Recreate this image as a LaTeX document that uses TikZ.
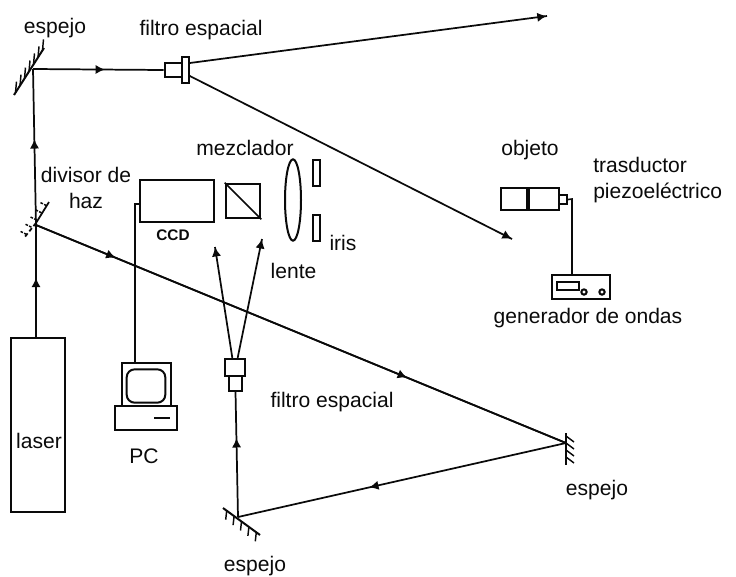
\documentclass[tikz,border=0pt]{standalone}
\usepackage{fontspec}
\setmainfont{Liberation Sans}
\usetikzlibrary{positioning,arrows.meta,calc,shapes.geometric,decorations.markings}
\definecolor{ink}{HTML}{0A0A0A}
\tikzset{
  beam/.style={draw=ink,line width=1.3pt},
  beamarrow/.style={beam,postaction={decorate},decoration={markings,mark=at position #1 with {\arrow{Latex[length=7pt,width=7pt]}}}},
  part/.style={draw=ink,line width=1.5pt,fill=white,inner sep=0pt},
  wire/.style={draw=ink,line width=1.2pt},
  hatch/.style={draw=ink,line width=1.1pt},
  lbl/.style={font=\fontsize{15.8}{20}\selectfont,text=ink,inner sep=0pt,align=center},
}
\begin{document}
\begin{tikzpicture}[x=0.75pt,y=-0.75pt]
  \useasboundingbox (0,0) rectangle (736,576);
  % mirrors and free ends
  \coordinate (mtop) at (33,69);
  \coordinate (split) at (36,225);
  \coordinate (mright) at (566,443);
  \coordinate (mbot) at (238,517);
  \coordinate (endtop) at (547,16);
  \coordinate (endobj) at (512,239);
  \coordinate (endleft) at (215,247);
  \coordinate (endright) at (262,239);
  \coordinate (ccdbend) at (135,204);
  \coordinate (piezobend) at (572,199);
  % boxes
  \node[part,minimum width=40.5pt,minimum height=130pt] (laser) at (38,425) {};
  \node[lbl] (laserlbl) at (39,441) {laser};
  \node[part,minimum width=56pt,minimum height=32pt] (ccd) at (177,201) {};
  \node[lbl,font=\fontsize{11.5}{12}\selectfont\bfseries] (ccdlbl) at (173,235) {CCD};
  \node[part,minimum width=26pt,minimum height=26pt] (mixer) at (243,201) {};
  \draw[wire] (mixer.north west) -- (mixer.south east);
  \node[part,ellipse,minimum width=12pt,minimum height=61pt] (lens) at (293,200) {};
  \node[part,minimum width=5pt,minimum height=19.5pt] (iristop) at (316.5,173) {};
  \node[part,minimum width=5pt,minimum height=19.5pt] (irisbot) at (316.5,228) {};
  % spatial filters
  \node[part,minimum width=14pt,minimum height=10.5pt] (sfone) at (174,70) {};
  \node[part,minimum width=5pt,minimum height=19.5pt] (sftwo) at (185.5,70) {};
  \node[part,minimum width=15pt,minimum height=13pt] (sfthree) at (235,367.5) {};
  \node[part,minimum width=10pt,minimum height=11pt] (sffour) at (235.5,383.5) {};
  % object and generator
  \node[part,minimum width=43.5pt,minimum height=16.5pt] (obj) at (530,199) {};
  \draw[ink,line width=2.6pt] (528,188) -- (528,210);
  \node[part,minimum width=6pt,minimum height=7pt] (piezo) at (563,199.5) {};
  \node[part,minimum width=43.5pt,minimum height=18pt] (gen) at (581,287) {};
  \node[part,minimum width=16.5pt,minimum height=6pt] (gendisp) at (568,286) {};
  \node[part,circle,minimum size=4pt] (knobone) at (584,292) {};
  \node[part,circle,minimum size=4pt] (knobtwo) at (602,292) {};
  % pc
  \node[part,minimum width=37pt,minimum height=32pt] (pcscreen) at (146.5,384.5) {};
  \node[part,rounded corners=6pt,minimum width=29pt,minimum height=25pt] (pcface) at (146,386) {};
  \node[part,minimum width=47pt,minimum height=18pt] (pcbase) at (146,418) {};
  \draw[wire,line width=1.8pt] (154,418) -- (170,418);
  % beams
  \draw[beamarrow=0.53] (laser.north -| split) -- (split);
  \draw[beamarrow=0.55] (split) -- (mtop);
  \draw[beamarrow=0.55] (mtop) -- (sfone.west);
  \draw[beamarrow=0.999] (sftwo.north east) ++(0,7) -- (endtop);
  \draw[beamarrow=0.999] (sftwo.south east) ++(0,-8) -- (endobj);
  \draw[beamarrow=0.15] (split) -- (mright);
  \draw[beamarrow=0.7] (split) -- (mright);
  \draw[beamarrow=0.6] (mright) -- (mbot);
  \draw[beamarrow=0.63] (mbot) -- (sffour.south);
  \draw[beamarrow=0.999] ([xshift=-2]sfthree.north) -- (endleft);
  \draw[beamarrow=0.999] ([xshift=2]sfthree.north) -- (endright);
  % wires
  \draw[wire] (pcscreen.north -| ccdbend) -- (ccdbend) -- (ccd.west |- ccdbend);
  \draw[wire] (piezo.east) -- (piezobend) -- (gen.north -| piezobend);
  % mirrors
  \draw[hatch,line width=1.5pt] (14,95) -- (44,48);
  \foreach \t in {0.05,0.2,...,0.95}
    \draw[hatch] ($(14,95)!\t!(44,48)$) -- ++(1,-11);
  \draw[hatch,line width=1.3pt] (36,223) -- (49,202);
  \draw[hatch,dash pattern=on 3pt off 2pt,line width=1.3pt] (36,223) -- (24,238);
  \foreach \t in {0.1,0.3,...,0.95}
    \draw[hatch,dash pattern=on 2pt off 1pt] ($(24,238)!\t!(49,202)$) -- ++(-6,-3);
  \draw[hatch,line width=1.5pt] (566,433) -- (566,465);
  \foreach \s in {-7,0,7,14}
    \draw[hatch] ([yshift=\s*-0.75pt]mright) -- ++(8,6);
  \draw[hatch,line width=1.5pt] (223,508) -- (260,535);
  \foreach \t in {0.1,0.3,...,0.95}
    \draw[hatch] ($(223,508)!\t!(260,535)$) -- ++(-1,9);
  % labels
  \node[lbl] (lblmtop) at (55,28) {espejo};
  \node[lbl] (lblsftop) at (201,30) {filtro espacial};
  \node[lbl] (lbldiv) at (86,188) {divisor de\\haz};
  \node[lbl] (lblmix) at (245,148) {mezclador};
  \node[lbl] (lbllens) at (293.5,271) {lente};
  \node[lbl] (lbliris) at (343,243) {iris};
  \node[lbl] (lblobj) at (530,150) {objeto};
  \node[lbl,anchor=west,align=left] (lblpiezo) at (593,180) {trasductor\\piezoeléctrico};
  \node[lbl] (lblgen) at (588,318) {generador de ondas};
  \node[lbl] (lblpc) at (144,456) {PC};
  \node[lbl] (lblsfbot) at (332,402) {filtro espacial};
  \node[lbl] (lblmright) at (597,490) {espejo};
  \node[lbl] (lblmbot) at (255,566) {espejo};
\end{tikzpicture}
\end{document}
